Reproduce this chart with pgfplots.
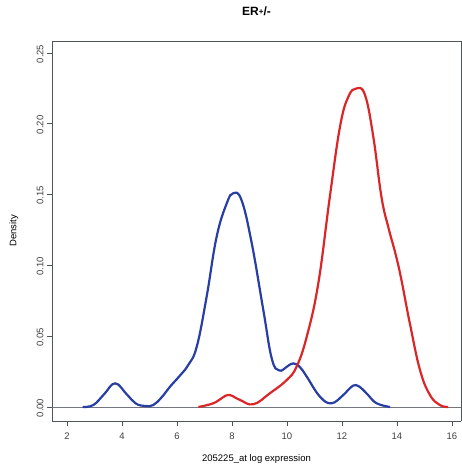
\documentclass[border=0pt]{standalone}
\usepackage{pgfplots}
\pgfplotsset{compat=1.18}
\usepackage{fontspec}
\setmainfont{Liberation Sans}
\definecolor{rblue}{RGB}{40,62,165}
\definecolor{rred}{RGB}{218,38,40}
\definecolor{axgray}{RGB}{80,85,90}
\begin{document}
\begin{tikzpicture}[x=1pt,y=1pt]
\clip (0,0) rectangle (462,465);
\path[use as bounding box] (0,0) rectangle (462,465);
\begin{axis}[
  at={(52pt,44pt)}, anchor=south west,
  scale only axis, width=409pt, height=380pt,
  xmin=1.455, xmax=16.33, ymin=-0.0099, ymax=0.2585,
  axis line style={axgray, line width=0.9pt},
  axis x line*=bottom, axis y line*=left,
  xtick={2,4,...,16}, ytick={0,0.05,...,0.25},
  yticklabels={0.00,0.05,0.10,0.15,0.20,0.25},
  tick align=outside, tick style={axgray, line width=0.8pt},
  major tick length=5pt,
  tick label style={font=\fontsize{9.5}{10}\selectfont, text=black!75},
  /pgf/number format/assume math mode=true,
  yticklabel style={rotate=90, anchor=south, xshift=-1pt},
  xticklabel style={yshift=-3pt},
  ylabel={Density}, ylabel style={font=\fontsize{9.5}{10}\selectfont, at={(axis description cs:-0.093,0.5)}, anchor=center},
  xlabel={205225\_at log expression}, xlabel style={font=\fontsize{9.5}{10}\selectfont, at={(axis description cs:0.5,-0.079)}, anchor=north},
  title={\textbf{ER\raisebox{0.3pt}{\footnotesize+}/-}}, title style={font=\fontsize{12}{13}\selectfont, at={(axis description cs:0.5,1.052)}, anchor=base},
  clip=false,
]
\draw[axgray, line width=0.9pt] (axis cs:16.33,-0.0099) -- (axis cs:16.33,0.2585) -- (axis cs:1.455,0.2585);
\addplot[axgray!80, line width=0.8pt, forget plot] coordinates {(1.455,0) (16.33,0)};
\addplot[rblue, line width=2.2pt, smooth, tension=0.7] coordinates {
(2.57,0) (2.96,0.0014) (3.35,0.009) (3.75,0.0167) (4.17,0.009) (4.5,0.0025) (4.84,0.0007) (5.14,0.0014)
(5.45,0.007) (5.75,0.0144) (6.1,0.022) (6.41,0.0297) (6.72,0.0426) (7.08,0.078) (7.44,0.120) (7.81,0.1438) (8.05,0.151)
(8.35,0.146) (8.72,0.1156) (9.14,0.0685) (9.45,0.034) (9.72,0.0258) (10.0,0.0285) (10.23,0.0308)
(10.48,0.028) (10.72,0.0214) (11.2,0.0073) (11.62,0.0026) (12.05,0.0085) (12.3,0.0135) (12.51,0.0155) (12.75,0.0125) (12.95,0.0085)
(13.26,0.0026) (13.75,0)
};
\addplot[rred, line width=2.2pt, smooth, tension=0.7] coordinates {
(6.78,0) (7.32,0.0026) (7.65,0.0065) (7.9,0.0085) (8.29,0.005) (8.78,0.0019) (9.38,0.0097) (9.99,0.019)
(10.35,0.0285) (10.72,0.0497) (11.14,0.0873) (11.56,0.1485) (11.93,0.198) (12.23,0.219)
(12.53,0.225) (12.84,0.2203) (13.14,0.1909) (13.44,0.148) (13.7,0.126) (13.95,0.108) (14.15,0.091)
(14.47,0.059) (14.84,0.026) (15.2,0.0085) (15.56,0.0014) (15.86,0)
};
\end{axis}
\end{tikzpicture}
\end{document}
